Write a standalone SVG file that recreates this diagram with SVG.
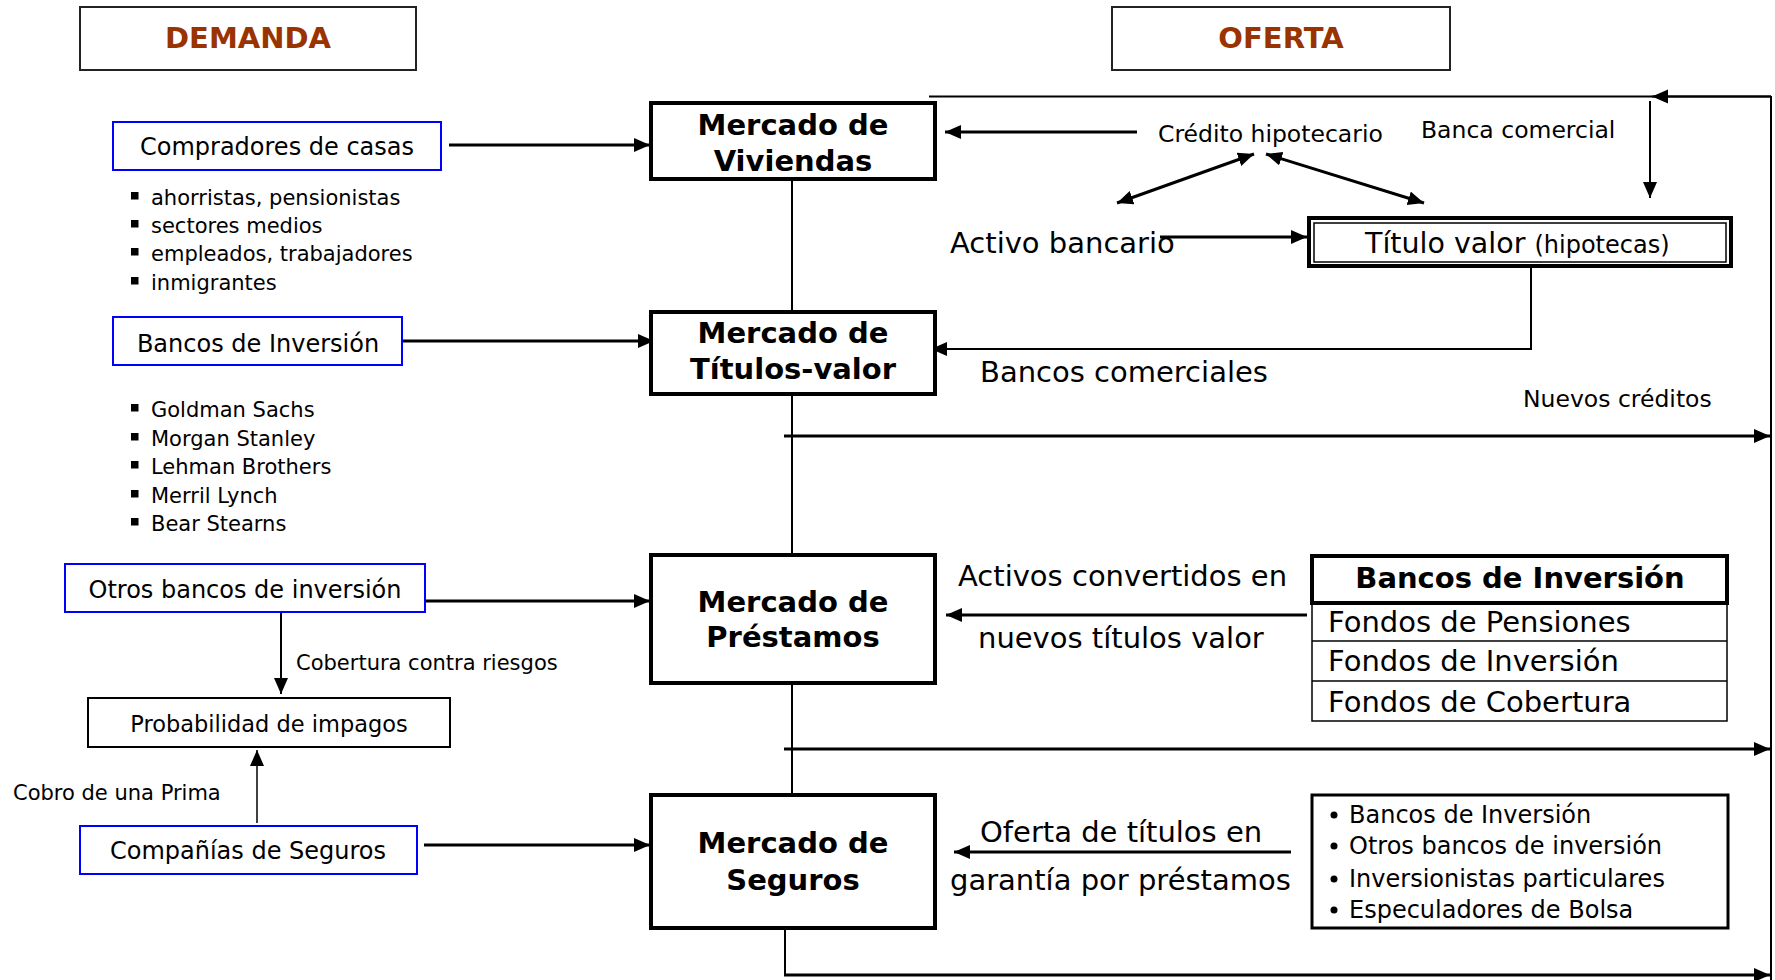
<svg xmlns="http://www.w3.org/2000/svg" width="1775" height="980" viewBox="0 0 1775 980">
<style>
text{font-family:"DejaVu Sans","Liberation Sans",sans-serif;fill:#000}
.title{font-size:29px;font-weight:bold;fill:#993300;text-anchor:middle}
.tbox{fill:#fff;stroke:#222;stroke-width:2}
.mk{fill:#fff;stroke:#000;stroke-width:4}
.mt{font-size:29px;font-weight:bold;text-anchor:middle}
.blue{fill:#fff;stroke:#0000ff;stroke-width:2}
.plain{fill:#fff;stroke:#000;stroke-width:2}
.t29{font-size:29px}
.t24{font-size:24px}
.t235{font-size:23.5px}
.t21{font-size:21px}
.c{text-anchor:middle}
.w3{fill:none;stroke:#000;stroke-width:3}
.w2{fill:none;stroke:#000;stroke-width:2}
.w15{fill:none;stroke:#000;stroke-width:1.5}
.a{marker-end:url(#ah)}
.aa{marker-start:url(#ahs);marker-end:url(#ah)}
</style>
<defs>
<marker id="ah" markerUnits="userSpaceOnUse" markerWidth="17" markerHeight="15" refX="16" refY="7" orient="auto"><path d="M0,0 L16,7 L0,14 z" fill="#000"/></marker>
<marker id="ahs" markerUnits="userSpaceOnUse" markerWidth="17" markerHeight="15" refX="16" refY="7" orient="auto-start-reverse"><path d="M0,0 L16,7 L0,14 z" fill="#000"/></marker>
</defs>
<rect width="1775" height="980" fill="#fff"/>

<g id="connectors">
<line class="w3 a" x1="449" y1="145" x2="650" y2="145"/>
<line class="w3 a" x1="1137" y1="132" x2="945" y2="132"/>
<line class="w3 aa" x1="1254" y1="154" x2="1117" y2="203"/>
<line class="w3 aa" x1="1266" y1="154" x2="1424" y2="203"/>
<line class="w2" x1="929" y1="96.5" x2="1771" y2="96.5"/>
<line class="w2 a" x1="1771" y1="96.5" x2="1652" y2="96.5"/>
<line class="w2" x1="1771" y1="96" x2="1771" y2="980"/>
<line class="w2 a" x1="1650" y1="101" x2="1650" y2="198"/>
<line class="w3 a" x1="1160" y1="237" x2="1307" y2="237"/>
<path class="w2 a" d="M1531,268 V349 H931"/>
<line class="w3 a" x1="402" y1="341" x2="654" y2="341"/>
<path class="w2" d="M792,180 V312 M792,394 V555 M792,683 V795"/>
<line class="w3 a" x1="784" y1="436" x2="1770" y2="436"/>
<line class="w3 a" x1="784" y1="749" x2="1770" y2="749"/>
<path class="w2" d="M785,924 V975"/>
<line class="w3 a" x1="784" y1="975" x2="1770" y2="975"/>
<line class="w3 a" x1="422" y1="601" x2="650" y2="601"/>
<line class="w2 a" x1="281" y1="612" x2="281" y2="694"/>
<line class="w15 a" x1="257" y1="823" x2="257" y2="750"/>
<line class="w3 a" x1="424" y1="845" x2="650" y2="845"/>
<line class="w3 a" x1="1307" y1="615" x2="946" y2="615"/>
<line class="w3 a" x1="1291" y1="852" x2="954" y2="852"/>
</g>

<g id="demanda">
<rect class="tbox" x="80" y="7" width="336" height="63"/>
<text class="title" x="248" y="48">DEMANDA</text>
</g>
<g id="oferta">
<rect class="tbox" x="1112" y="7" width="338" height="63"/>
<text class="title" x="1281" y="48">OFERTA</text>
</g>

<g id="mercado-viviendas">
<rect class="mk" x="651" y="103" width="284" height="76"/>
<text class="mt" x="793" y="135">Mercado de</text>
<text class="mt" x="793" y="171">Viviendas</text>
</g>
<g id="mercado-titulos">
<rect class="mk" x="651" y="312" width="284" height="82"/>
<text class="mt" x="793" y="343">Mercado de</text>
<text class="mt" x="793" y="379">Títulos-valor</text>
</g>
<g id="mercado-prestamos">
<rect class="mk" x="651" y="555" width="284" height="128"/>
<text class="mt" x="793" y="612">Mercado de</text>
<text class="mt" x="793" y="647">Préstamos</text>
</g>
<g id="mercado-seguros">
<rect class="mk" x="651" y="795" width="284" height="133"/>
<text class="mt" x="793" y="853">Mercado de</text>
<text class="mt" x="793" y="890">Seguros</text>
</g>

<g id="compradores">
<rect class="blue" x="113" y="122" width="328" height="48"/>
<text class="t24 c" x="277" y="155">Compradores de casas</text>
</g>
<g id="compradores-lista">
<rect x="131" y="192" width="7.5" height="7.5"/>
<rect x="131" y="220" width="7.5" height="7.5"/>
<rect x="131" y="248" width="7.5" height="7.5"/>
<rect x="131" y="277" width="7.5" height="7.5"/>
<text class="t21" x="151" y="205">ahorristas, pensionistas</text>
<text class="t21" x="151" y="233">sectores medios</text>
<text class="t21" x="151" y="261">empleados, trabajadores</text>
<text class="t21" x="151" y="290">inmigrantes</text>
</g>
<g id="bancos-inversion">
<rect class="blue" x="113" y="317" width="289" height="48"/>
<text class="t24 c" x="258" y="352">Bancos de Inversión</text>
</g>
<g id="bancos-lista">
<rect x="131" y="404" width="7.5" height="7.5"/>
<rect x="131" y="433" width="7.5" height="7.5"/>
<rect x="131" y="461" width="7.5" height="7.5"/>
<rect x="131" y="490" width="7.5" height="7.5"/>
<rect x="131" y="518" width="7.5" height="7.5"/>
<text class="t21" x="151" y="417">Goldman Sachs</text>
<text class="t21" x="151" y="446">Morgan Stanley</text>
<text class="t21" x="151" y="474">Lehman Brothers</text>
<text class="t21" x="151" y="503">Merril Lynch</text>
<text class="t21" x="151" y="531">Bear Stearns</text>
</g>
<g id="otros-bancos">
<rect class="blue" x="65" y="564" width="360" height="48"/>
<text class="t24 c" x="245" y="598">Otros bancos de inversión</text>
</g>
<g id="cobertura-label">
<text class="t21" x="296" y="670">Cobertura contra riesgos</text>
</g>
<g id="probabilidad">
<rect class="plain" x="88" y="698" width="362" height="49"/>
<text class="c" style="font-size:22.5px" x="269" y="732">Probabilidad de impagos</text>
</g>
<g id="cobro-label">
<text class="t21" x="13" y="800">Cobro de una Prima</text>
</g>
<g id="companias">
<rect class="blue" x="80" y="826" width="337" height="48"/>
<text class="t24 c" x="248" y="859">Compañías de Seguros</text>
</g>

<g id="credito-hipotecario">
<text class="t235" x="1158" y="142">Crédito hipotecario</text>
</g>
<g id="banca-comercial">
<text class="t235" x="1421" y="138">Banca comercial</text>
</g>
<g id="activo-bancario">
<text class="t29" x="950" y="253">Activo bancario</text>
</g>
<g id="titulo-valor">
<rect x="1309" y="218" width="422" height="48" fill="#fff" stroke="#000" stroke-width="4"/>
<rect x="1314" y="223" width="412" height="39" fill="none" stroke="#000" stroke-width="1.5"/>
<text class="t29" x="1365" y="253" style="font-size:28.5px">Título valor <tspan style="font-size:24px">(hipotecas)</tspan></text>
</g>
<g id="bancos-comerciales">
<text class="t29" x="980" y="382">Bancos comerciales</text>
</g>
<g id="nuevos-creditos">
<text class="t235" x="1523" y="407">Nuevos créditos</text>
</g>
<g id="activos-convertidos">
<text class="t29" x="958" y="586">Activos convertidos en</text>
<text class="t29" x="978" y="648">nuevos títulos valor</text>
</g>
<g id="tabla-bancos">
<rect x="1312" y="603" width="415" height="118" fill="#fff" stroke="#000" stroke-width="1.5"/>
<line x1="1312" y1="641" x2="1727" y2="641" stroke="#000" stroke-width="1.5"/>
<line x1="1312" y1="681" x2="1727" y2="681" stroke="#000" stroke-width="1.5"/>
<rect class="mk" x="1312" y="556" width="415" height="47"/>
<text class="mt" x="1520" y="588">Bancos de Inversión</text>
<text class="t29" x="1328" y="632">Fondos de Pensiones</text>
<text class="t29" x="1328" y="671">Fondos de Inversión</text>
<text class="t29" x="1328" y="712">Fondos de Cobertura</text>
</g>
<g id="oferta-titulos">
<text class="t29" x="980" y="842">Oferta de títulos en</text>
<text class="t29" x="950" y="890">garantía por préstamos</text>
</g>
<g id="lista-oferentes">
<rect x="1312" y="795" width="416" height="133" fill="#fff" stroke="#000" stroke-width="3"/>
<circle cx="1334" cy="815" r="3.5"/>
<circle cx="1334" cy="846" r="3.5"/>
<circle cx="1334" cy="879" r="3.5"/>
<circle cx="1334" cy="910" r="3.5"/>
<text class="t24" x="1349" y="823">Bancos de Inversión</text>
<text class="t24" x="1349" y="854">Otros bancos de inversión</text>
<text class="t24" x="1349" y="887">Inversionistas particulares</text>
<text class="t24" x="1349" y="918">Especuladores de Bolsa</text>
</g>
</svg>
